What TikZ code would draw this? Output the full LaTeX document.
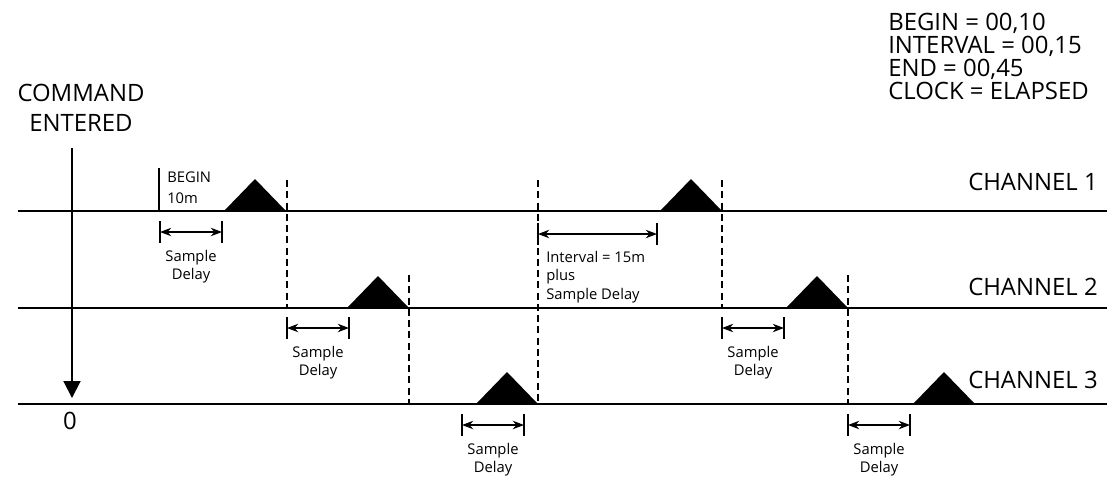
\documentclass[tikz,border=0pt]{standalone}
\usepackage{fontspec}
\setmainfont{Open Sans}
\usetikzlibrary{arrows.meta, positioning}

\begin{document}
\begin{tikzpicture}[x=0.025cm, y=-0.025cm,
        lbl/.style={inner sep=0pt, font=\fontsize{17}{21}\selectfont},
        small/.style={inner sep=0pt, align=center, font=\fontsize{10.5}{13}\selectfont},
        delay/.style={{Stealth[length=8pt,width=6pt]}-{Stealth[length=8pt,width=6pt]}, line width=0.8pt},
        bar/.style={line width=1.4pt},
        guide/.style={dash pattern=on 5pt off 3pt, line width=1.8pt}]
    \useasboundingbox (0,0) rectangle (1116,476);
    \def\yA{211}  % channel 1
    \def\yB{308}  % channel 2
    \def\yC{404}  % channel 3
    \def\w{62}    % sample delay
    \def\h{32}    % pulse height
    \node[lbl, align=center] (cmd) at (81,108) {COMMAND\\ENTERED};
    \node[lbl, align=left, anchor=north west, font=\fontsize{17}{16.3}\selectfont] (set) at (888,13)
        {BEGIN = 00,10\\INTERVAL = 00,15\\END = 00,45\\CLOCK = ELAPSED};
    \foreach \y/\ly/\n in {\yA/182/1, \yB/287/2, \yC/380/3} {
        \draw[line width=1pt] (18,\y) -- (1107,\y);
        \node[lbl, anchor=east] (ch\n) at (1098,\ly) {CHANNEL \n};
    };
    \coordinate (t0) at (72,398);
    \draw[line width=1.4pt, -{Triangle[length=12pt,width=12pt]}] (72,148) -- (t0);
    \node[lbl] (zero) at (70,421) {0};
    \foreach \x/\y in {286/\yA, 722/\yA, 409/\yB, 848/\yB, 538/\yC, 975/\yC}
        \fill (\x,\y) -- ++(-\w/2,-\h) -- ++(-\w/2,\h) -- cycle;
    \foreach \x/\ya/\yb in {287/180/\yB, 409/275/\yC, 538/180/\yC, 722/180/\yB, 848/275/\yC}
        \draw[guide] (\x,\ya) -- (\x,\yb);
    \draw[bar] (159,168) -- (159,\yA);
    \node[small, align=left, anchor=west, font=\fontsize{10.5}{15}\selectfont] (begin) at (167,188) {BEGIN\\10m};
    \foreach \x/\y [count=\i] in {160/232, 287/328, 462/425, 722/328, 848/425} {
        \draw[bar] (\x,\y-11) -- (\x,\y+11);
        \draw[bar] (\x+\w,\y-11) -- (\x+\w,\y+11);
        \draw[delay] (\x,\y) -- (\x+\w,\y);
        \node[small, anchor=north] (sd\i) at (\x+\w/2,\y+18) {Sample\\Delay};
    };
    \draw[bar] (538,223) -- (538,245);
    \draw[bar] (657,223) -- (657,245);
    \draw[delay] (538,234) -- (657,234);
    \node[small, align=left, anchor=north west] (intv) at (546,251) {Interval = 15m\\plus\\Sample Delay};
\end{tikzpicture}
\end{document}
